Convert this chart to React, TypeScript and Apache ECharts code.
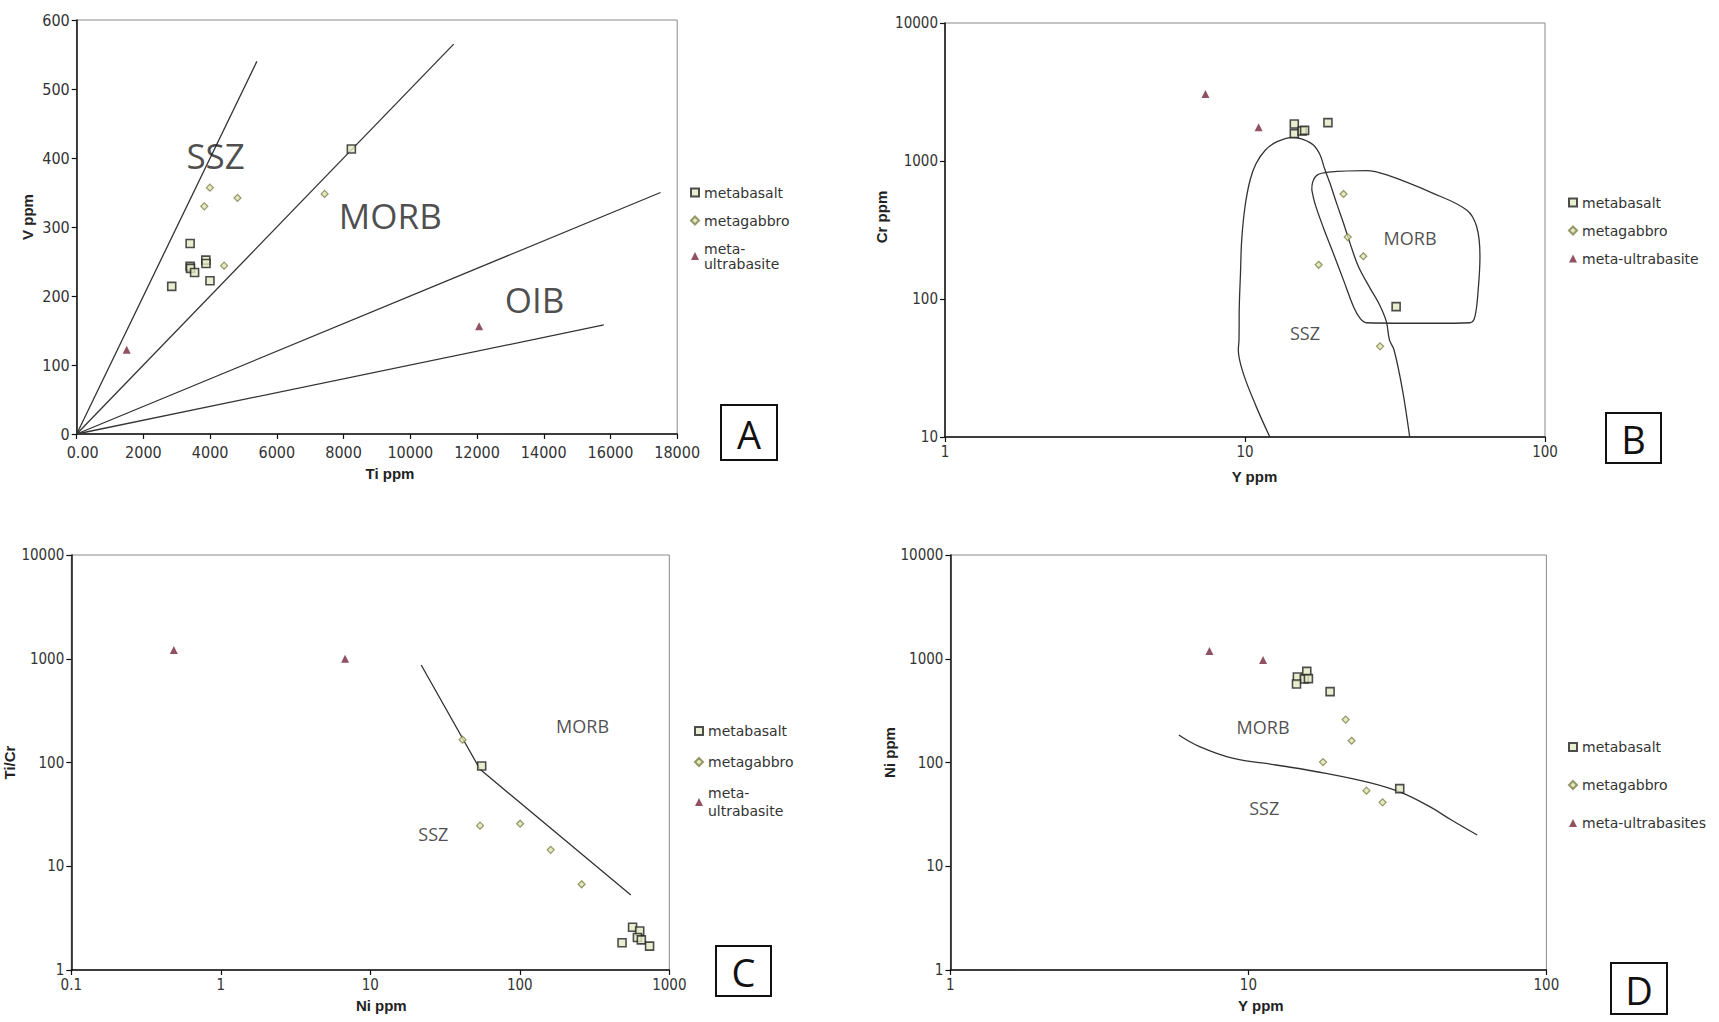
import React, { useEffect, useRef } from "react";
import * as echarts from "echarts";

// ---------- Panel A : Ti vs V ----------
const A_metabasalt: number[][] = [
  [8233, 413], [3400, 276], [3400, 243], [3412, 240], [3870, 252], [3876, 247], [3534, 234], [3995, 222], [2848, 214],
];
const A_metagabbro: number[][] = [[3993, 357], [4819, 342], [3825, 330], [7430, 348], [4418, 244]];
const A_ultrabasite: number[][] = [[1498, 122], [12062, 156]];
const A_boundaries: number[][][] = [
  [[0, 0], [5400, 540]],
  [[0, 0], [11300, 565]],
  [[0, 0], [17500, 350]],
  [[0, 0], [15800, 158]],
];
const A_regionNames = ["SSZ", "MORB", "OIB"];
const A_regionPos: number[][] = [[4163, 404], [9400, 316], [13722, 195]];

// ---------- Panel B : Y vs Cr ----------
const B_metabasalt: number[][] = [[14.6, 1853], [14.6, 1578], [15.5, 1648], [15.8, 1667], [18.9, 1897], [31.9, 88]];
const B_metagabbro: number[][] = [[21.3, 577], [22.0, 281], [24.8, 204], [17.6, 177], [28.2, 45.4]];
const B_ultrabasite: number[][] = [[7.38, 3062], [11.1, 1754]];
const B_sszField: number[][] = [
  [12.1, 10], [10.9, 16.6], [9.87, 28.9], [9.5, 42.7], [9.55, 50.5], [9.57, 88], [9.66, 154], [9.75, 268],
  [10.0, 466], [10.4, 728], [10.9, 962], [11.7, 1202], [12.8, 1380], [14.5, 1483], [15.6, 1435], [16.9, 1306],
  [17.8, 1104], [18.4, 885], [19.2, 689], [20.2, 493], [21.3, 354], [22.4, 253], [23.9, 171], [26.1, 120],
  [28.1, 90.6], [29.6, 68.5], [30.3, 50.5], [31.4, 42.7], [33.5, 21.9], [35.4, 10],
];
const B_morbField: number[][] = [
  [16.7, 617], [16.8, 700], [17.4, 790], [19.0, 830], [25.4, 851], [29.7, 792], [42.4, 583], [54.8, 442],
  [59.2, 334], [60.7, 203], [60.0, 123], [58.4, 74.5], [56.2, 67.3], [42.4, 66.7], [25.4, 67.3], [24.2, 72.4],
  [23.0, 88], [21.3, 137], [19.7, 214], [18.2, 334], [17.1, 493], [16.7, 617],
];
const B_regionNames = ["MORB", "SSZ"];
const B_regionPos: number[][] = [[35.5, 275], [15.85, 56.4]];

// ---------- Panel C : Ni vs Ti/Cr ----------
const C_metabasalt: number[][] = [[55.6, 92.5], [568, 2.58], [634, 2.38], [612, 2.06], [650, 1.95], [483, 1.83], [738, 1.7]];
const C_metagabbro: number[][] = [[41.4, 166], [54.2, 24.6], [100.5, 25.7], [161, 14.4], [259, 6.7]];
const C_ultrabasite: number[][] = [[0.485, 1214], [6.78, 1002]];
const C_boundary: number[][] = [[21.9, 871], [54.2, 86], [553, 5.28]];
const C_regionNames = ["MORB", "SSZ"];
const C_regionPos: number[][] = [[263, 226], [26.4, 20.5]];

// ---------- Panel D : Y vs Ni ----------
const D_metabasalt: number[][] = [[15.7, 756], [14.6, 667], [15.4, 638], [15.9, 643], [14.5, 571], [18.8, 482], [32.2, 56]];
const D_metagabbro: number[][] = [[21.2, 259], [22.2, 162], [17.8, 101], [24.9, 53.5], [28.2, 41.3]];
const D_ultrabasite: number[][] = [[7.4, 1188], [11.2, 973]];
const D_boundary: number[][] = [
  [5.84, 184], [6.86, 142], [8.84, 110], [12.4, 94.6], [18.2, 78.7], [25.5, 64], [32.2, 52], [40.6, 37.5], [48, 27.9], [58.6, 20],
];
const D_regionNames = ["MORB", "SSZ"];
const D_regionPos: number[][] = [[11.2, 221], [11.3, 36.7]];

const panelLetters = ["A", "B", "C", "D"];

const AXIS_FONT = "'Liberation Sans Narrow', 'DejaVu Sans Condensed', 'Liberation Sans', sans-serif";
const NAME_FONT = "'Liberation Sans', Arial, sans-serif";
const LABEL_FONT = "'Open Sans', 'Noto Sans', sans-serif";
const LEGEND_FONT = "'DejaVu Sans', sans-serif";

const fmtNum = (v: number) => String(Number(v.toPrecision(6)));

function axisBase(gridIndex: number, fontSize: number, namePad: number) {
  return {
    gridIndex,
    axisLine: { show: true, onZero: false, lineStyle: { color: "#111", width: 1.5 } },
    axisTick: { show: true, inside: false, length: 5, lineStyle: { color: "#111", width: 1.2 } },
    splitLine: { show: false },
    minorTick: { show: false },
    axisLabel: { color: "#333", fontFamily: AXIS_FONT, fontSize, margin: 7, formatter: fmtNum },
    nameLocation: "middle" as const,
    nameTextStyle: {
      color: "#222", fontFamily: NAME_FONT, fontWeight: "bold" as const, fontSize: 15,
      padding: [0, 0, 0, namePad],
    },
  };
}

const sqStyle = { color: "#e5eac6", borderColor: "#222", borderWidth: 1.6 };
const diaStyle = { color: "#dfe4b0", borderColor: "#7d7f48", borderWidth: 1.2 };
const triStyle = { color: "#74263a" };

function markerSeries(idx: number, bas: number[][], gab: number[][], ult: number[][], ultName: string) {
  return [
    { type: "scatter", name: "metabasalt", xAxisIndex: idx, yAxisIndex: idx, data: bas, symbol: "rect", symbolSize: 8, itemStyle: sqStyle, z: 5 },
    { type: "scatter", name: "metagabbro", xAxisIndex: idx, yAxisIndex: idx, data: gab, symbol: "diamond", symbolSize: 7, itemStyle: diaStyle, z: 5 },
    { type: "scatter", name: ultName, xAxisIndex: idx, yAxisIndex: idx, data: ult, symbol: "triangle", symbolSize: 8, itemStyle: triStyle, z: 5 },
  ];
}

function lineSeries(idx: number, name: string, data: number[][], smooth: number | boolean = false) {
  return {
    type: "line", name, xAxisIndex: idx, yAxisIndex: idx, data, showSymbol: false, symbol: "none", smooth,
    lineStyle: { color: "#333", width: 1.3 }, silent: true, z: 3,
  };
}

function regionLabels(idx: number, names: string[], pos: number[][], fontSize: number) {
  return {
    type: "scatter", name: "regions-" + idx, xAxisIndex: idx, yAxisIndex: idx, symbolSize: 1,
    itemStyle: { color: "rgba(0,0,0,0)" }, silent: true, z: 4,
    data: names.map((n, i) => ({ name: n, value: pos[i] })),
    label: { show: true, position: "inside", formatter: "{b}", color: "#1e1e1e", fontFamily: LABEL_FONT, fontSize },
  };
}

function legendFor(left: number, top: number, names: string[], gap: number, lineHeight: number, split: boolean) {
  return {
    show: true, orient: "vertical" as const, left, top, itemGap: gap, itemWidth: 8, itemHeight: 8, padding: 0,
    data: names, selectedMode: false,
    formatter: (n: string) => (split && n === "meta-ultrabasite" ? "meta-\nultrabasite" : n),
    textStyle: { color: "#333", fontFamily: LEGEND_FONT, fontSize: 14, lineHeight, padding: [0, 0, 0, 0] },
  };
}

const boxes = [
  { x: 721, y: 405, w: 56, h: 55 },
  { x: 1606, y: 413, w: 55, h: 50 },
  { x: 716, y: 946, w: 55, h: 50 },
  { x: 1611, y: 963, w: 56, h: 51 },
];

export default function App() {
  const ref = useRef<HTMLDivElement>(null);
  useEffect(() => {
    if (!ref.current) return;
    const chart = echarts.init(ref.current, null, { renderer: "svg" });
    const gridStyle = { show: true, borderColor: "#8a8a8a", borderWidth: 1, backgroundColor: "#fff", outerBoundsMode: "none" };
    const xA = axisBase(0, 16, 26);
    const option: any = {
      animation: false,
      backgroundColor: "#fff",
      grid: [
        { ...gridStyle, left: 76.7, top: 20, width: 600.5, height: 414 },
        { ...gridStyle, left: 945, top: 23, width: 600, height: 414 },
        { ...gridStyle, left: 71.3, top: 555, width: 598, height: 415 },
        { ...gridStyle, left: 950.4, top: 555, width: 596, height: 415 },
      ],
      xAxis: [
        {
          ...xA, type: "value", min: 0, max: 18000, interval: 2000, name: "Ti ppm", nameGap: 32,
          axisLabel: {
            ...xA.axisLabel, margin: 10,
            formatter: (v: number) => (v === 0 ? "{z|0.00}" : String(v)),
            rich: { z: { fontFamily: AXIS_FONT, fontSize: 16, color: "#333", padding: [0, 0, 0, 12] } },
          },
        },
        { ...axisBase(1, 15, 19), type: "log", logBase: 10, min: 1, max: 100, name: "Y ppm", nameGap: 32 },
        { ...axisBase(2, 15, 22), type: "log", logBase: 10, min: 0.1, max: 1000, name: "Ni ppm", nameGap: 28 },
        { ...axisBase(3, 15, 25), type: "log", logBase: 10, min: 1, max: 100, name: "Y ppm", nameGap: 28 },
      ],
      yAxis: [
        { ...axisBase(0, 16, 20), type: "value", min: 0, max: 600, interval: 100, name: "V ppm", nameGap: 42 },
        { ...axisBase(1, 15, 26), type: "log", logBase: 10, min: 10, max: 10000, name: "Cr ppm", nameGap: 56 },
        { ...axisBase(2, 15, 0), type: "log", logBase: 10, min: 1, max: 10000, name: "Ti/Cr", nameGap: 48 },
        { ...axisBase(3, 15, 20), type: "log", logBase: 10, min: 1, max: 10000, name: "Ni ppm", nameGap: 52 },
      ],
      legend: [
        legendFor(690, 185, ["metabasalt", "metagabbro", "meta-ultrabasite"], 13, 15, true),
        legendFor(1568, 195, ["metabasalt", "metagabbro", "meta-ultrabasite"], 13, 15, false),
        legendFor(694, 722, ["metabasalt", "metagabbro", "meta-ultrabasite"], 13, 18, true),
        legendFor(1568, 739, ["metabasalt", "metagabbro", "meta-ultrabasites"], 22, 16, false),
      ],
      series: [
        ...A_boundaries.map((d, i) => lineSeries(0, "A-boundary-" + i, d)),
        ...markerSeries(0, A_metabasalt, A_metagabbro, A_ultrabasite, "meta-ultrabasite"),
        regionLabels(0, A_regionNames, A_regionPos, 35),

        lineSeries(1, "B-SSZ-field", B_sszField, 0.35),
        lineSeries(1, "B-MORB-field", B_morbField, 0.35),
        ...markerSeries(1, B_metabasalt, B_metagabbro, B_ultrabasite, "meta-ultrabasite"),
        regionLabels(1, B_regionNames, B_regionPos, 18),

        lineSeries(2, "C-boundary", C_boundary),
        ...markerSeries(2, C_metabasalt, C_metagabbro, C_ultrabasite, "meta-ultrabasite"),
        regionLabels(2, C_regionNames, C_regionPos, 18),

        lineSeries(3, "D-boundary", D_boundary, 0.4),
        ...markerSeries(3, D_metabasalt, D_metagabbro, D_ultrabasite, "meta-ultrabasites"),
        regionLabels(3, D_regionNames, D_regionPos, 18),
      ],
      graphic: boxes.map((b, i) => ({
        type: "group",
        children: [
          { type: "rect", shape: { x: b.x, y: b.y, width: b.w, height: b.h }, style: { fill: "#fff", stroke: "#111", lineWidth: 2 } },
          {
            type: "text", x: b.x + b.w / 2, y: b.y + b.h / 2 + 1,
            style: { text: panelLetters[i], fill: "#111", font: `38px ${LABEL_FONT}`, align: "center", verticalAlign: "middle" },
          },
        ],
      })),
    };
    chart.setOption(option);
    return () => chart.dispose();
  }, []);
  return <div ref={ref} style={{ position: "fixed", left: 0, top: 0, width: 1719, height: 1022, background: "#fff" }} />;
}
